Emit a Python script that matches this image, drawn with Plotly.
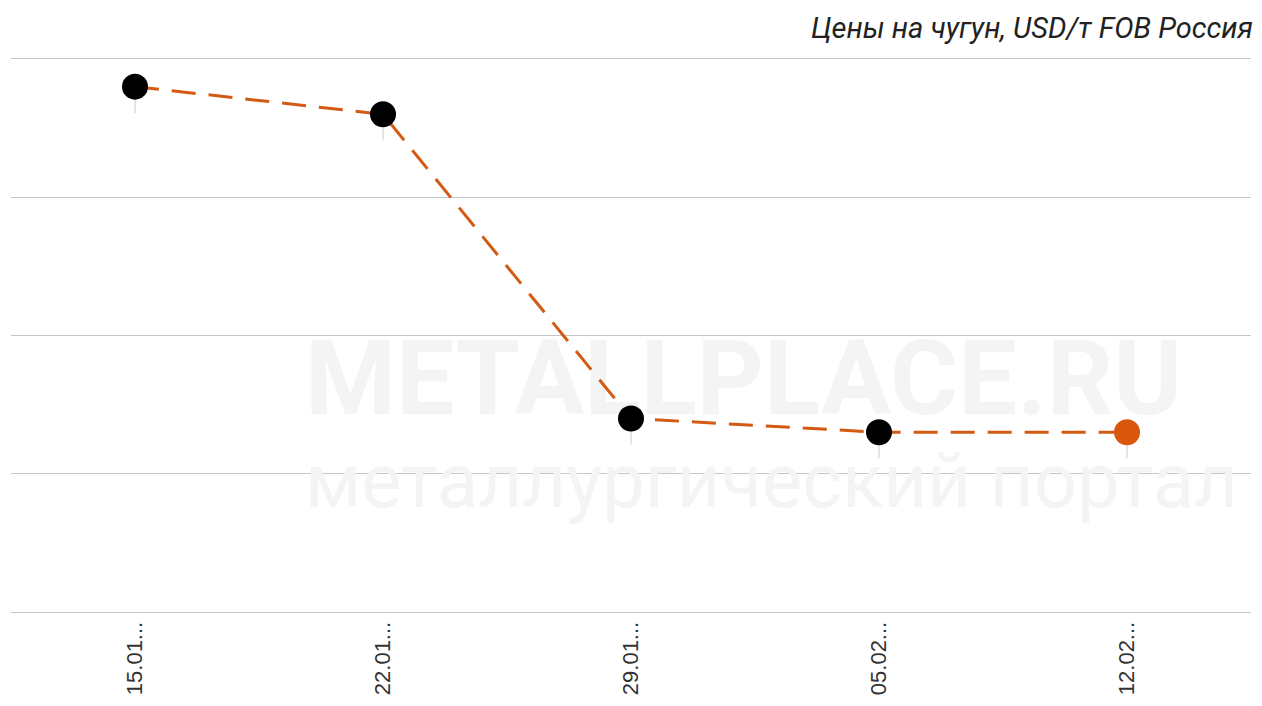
import plotly.graph_objects as go

dates = ["15.01...", "22.01...", "29.01...", "05.02...", "12.02..."]
prices = [418, 416, 394, 393, 393]
marker_colors = ["#000000", "#000000", "#000000", "#000000", "#d9560b"]
stem_len = [1.9, 1.9, 1.9, 1.9, 1.9]  # decorative label stems under points

watermark_texts = ["<b>METALLPLACE.RU</b>", "металлургический портал"]
watermark_x = [0.237, 0.237]
watermark_y = [0.405, 0.225]
watermark_sizes = [104, 76]

fig = go.Figure()

# faint watermark on base (hidden) axes, drawn beneath the data subplot
fig.add_trace(go.Scatter(
    x=watermark_x, y=watermark_y, mode="text",
    text=watermark_texts, textposition="middle right",
    textfont=dict(family="Roboto", size=watermark_sizes, color="#f4f4f4"),
    hoverinfo="skip", cliponaxis=False, xaxis="x", yaxis="y",
))

# data on overlay axes
fig.add_trace(go.Scatter(
    x=dates, y=prices,
    mode="lines+markers",
    line=dict(color="#d35a12", width=3, dash="24px,13px"),
    marker=dict(size=26, color=marker_colors, line=dict(width=0)),
    error_y=dict(type="data", symmetric=False, array=[0] * len(prices),
                 arrayminus=stem_len, color="#dedede", thickness=1.5, width=0),
    hoverinfo="x+y", xaxis="x2", yaxis="y2",
))

W, H = 1246, 690
fig.update_layout(
    width=W, height=H,
    margin=dict(l=3, r=3, t=51, b=86),
    paper_bgcolor="white", plot_bgcolor="white",
    showlegend=False,
    title=dict(text="<i>Цены на чугун, USD/т FOB Россия</i>",
               xref="container", x=1245 / W, xanchor="right",
               yref="container", y=1 - 20 / H, yanchor="middle",
               font=dict(family="Roboto", size=29, color="#222222")),
    xaxis=dict(range=[0, 1], visible=False, fixedrange=True),
    yaxis=dict(range=[0, 1], visible=False, fixedrange=True),
    xaxis2=dict(overlaying="x", side="bottom", showgrid=False, zeroline=False,
                showline=True, mirror=True, linecolor="#c6c6c6", linewidth=1,
                tickangle=-90, ticks="", automargin=False,
                tickfont=dict(family="Liberation Sans", size=22, color="#333333"),
                range=[-0.5, 4.5]),
    yaxis2=dict(overlaying="y", side="left", range=[380, 420], dtick=10,
                showticklabels=False, showgrid=True, gridcolor="#c6c6c6",
                gridwidth=1, zeroline=False, showline=False, ticks=""),
)

fig.write_html("out.html")
